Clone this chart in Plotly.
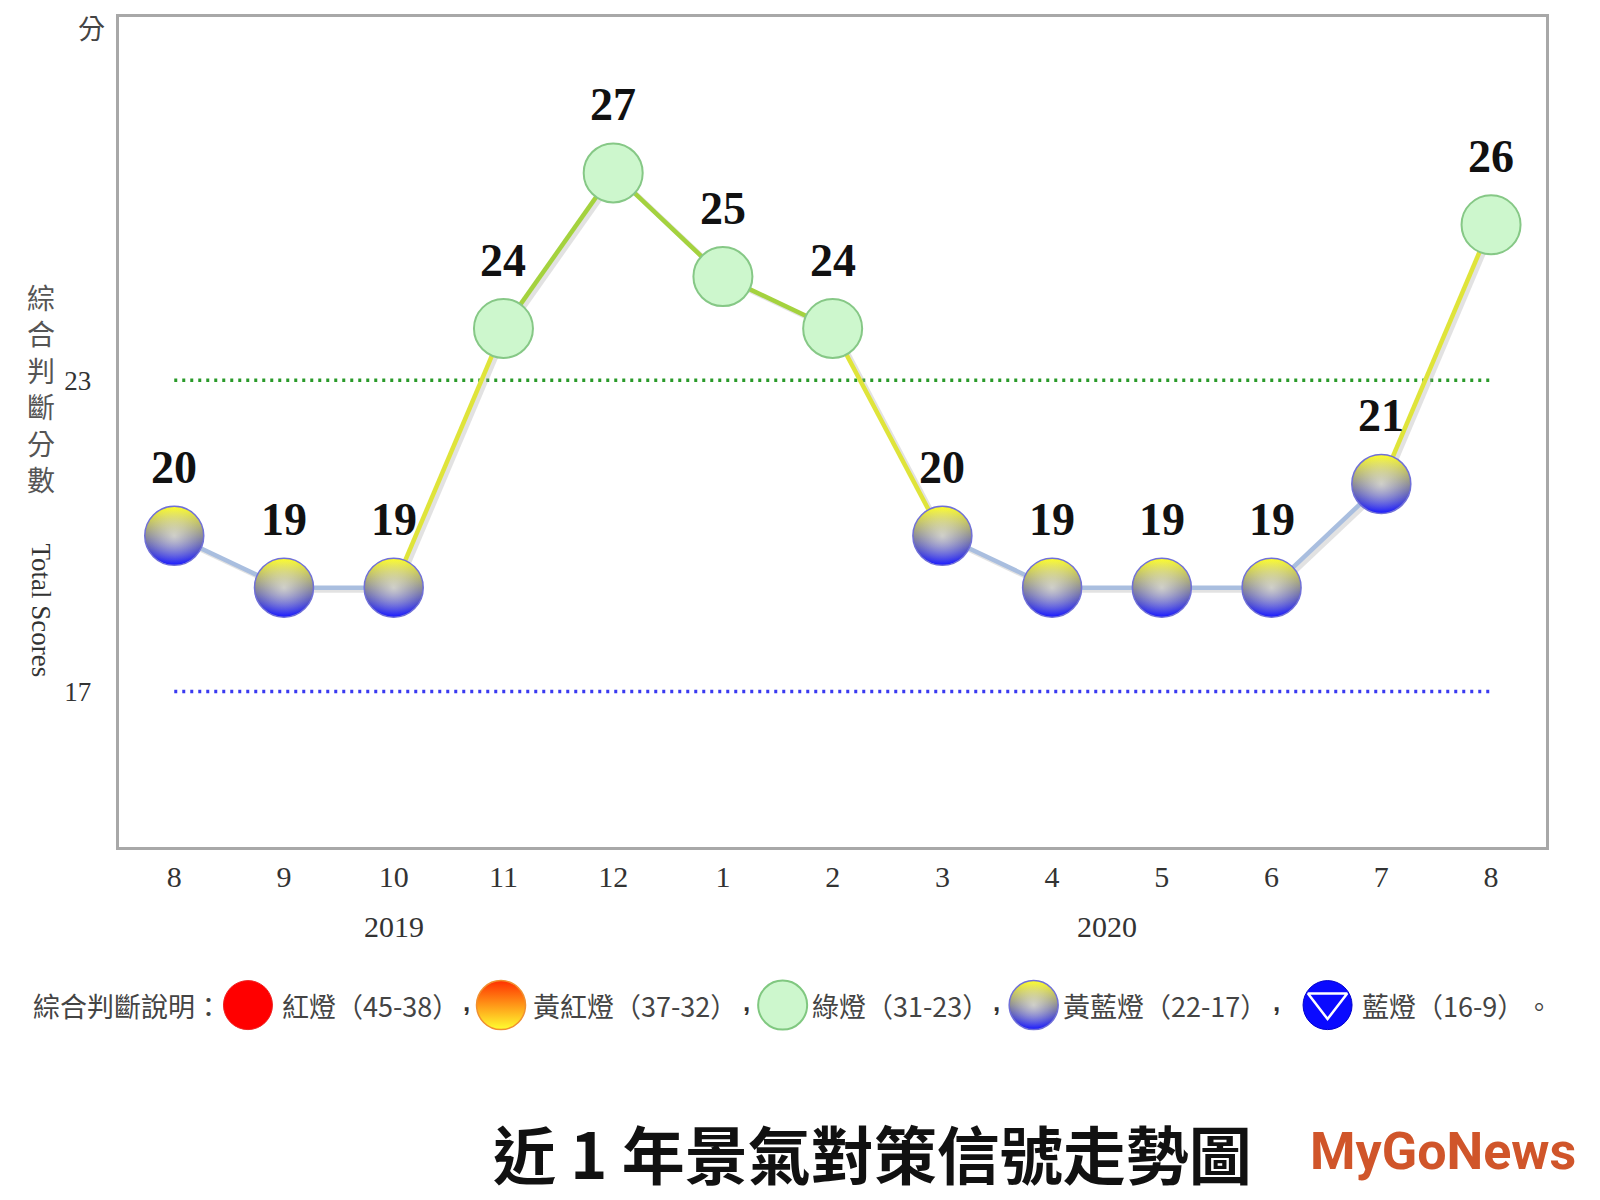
import plotly.graph_objects as go

# ---------------- data ----------------
months = ['8', '9', '10', '11', '12', '1', '2', '3', '4', '5', '6', '7', '8']
scores = [20, 19, 19, 24, 27, 25, 24, 20, 19, 19, 19, 21, 26]
year_labels = ['2019', '2020']
year_pos = [2, 8.5]
threshold_green = 23
threshold_blue = 17
y_ticks = [23, 17]
legend_labels = ['紅燈（45-38）', '黃紅燈（37-32）', '綠燈（31-23）', '黃藍燈（22-17）', '藍燈（16-9）']

W, H = 1600, 1200
S = 1600 / 1568.0   # reference-view scale
OFF = 8             # page body margin


def f(d):
    """reference-view pixel -> figure pixel"""
    return d * S - OFF


def px(d):
    return f(d) / W


def py(d):
    return 1 - f(d) / H


x_idx = list(range(len(months)))
SERIF = 'Liberation Serif, Times New Roman, serif'
CJK = 'Noto Sans CJK TC, Noto Sans, sans-serif'


def sig(v):
    return 'green' if v >= 23 else 'yb'


fig = go.Figure()

# threshold dotted lines
fig.add_trace(go.Scatter(x=[x_idx[0], x_idx[-1]], y=[threshold_green] * 2, mode='lines',
                         line=dict(color='#2a9a2a', width=3.5, dash='3px,5px'),
                         hoverinfo='skip', showlegend=False))
fig.add_trace(go.Scatter(x=[x_idx[0], x_idx[-1]], y=[threshold_blue] * 2, mode='lines',
                         line=dict(color='#3a3af0', width=3.5, dash='3px,5px'),
                         hoverinfo='skip', showlegend=False))

# connecting segments (with faint shadow)
for i in range(len(scores) - 1):
    a, b = sig(scores[i]), sig(scores[i + 1])
    if a == b == 'yb':
        col = '#a9bedf'
    elif a == b == 'green':
        col = '#a4d23e'
    else:
        col = '#dfe43a'
    fig.add_trace(go.Scatter(x=[x_idx[i] + 0.03, x_idx[i + 1] + 0.03], y=[scores[i] - 0.05, scores[i + 1] - 0.05],
                             mode='lines', line=dict(color='rgba(160,160,160,0.3)', width=5),
                             hoverinfo='skip', showlegend=False))
    fig.add_trace(go.Scatter(x=[x_idx[i], x_idx[i + 1]], y=[scores[i], scores[i + 1]],
                             mode='lines', line=dict(color=col, width=4.5),
                             hoverinfo='skip', showlegend=False))

# markers
gx = [x for x, v in zip(x_idx, scores) if sig(v) == 'green']
gy = [v for v in scores if sig(v) == 'green']
bx = [x for x, v in zip(x_idx, scores) if sig(v) == 'yb']
by = [v for v in scores if sig(v) == 'yb']

# soft halo behind lamps
fig.add_trace(go.Scatter(x=x_idx, y=scores, mode='markers',
                         marker=dict(size=66, color='rgba(255,255,255,0)',
                                     gradient=dict(type='radial', color='rgba(120,120,160,0.25)'),
                                     line=dict(width=0)),
                         hoverinfo='skip', showlegend=False))
fig.add_trace(go.Scatter(x=gx, y=gy, mode='markers',
                         marker=dict(size=59, color='#cdf7cd', line=dict(color='#86c886', width=2)),
                         hoverinfo='skip', showlegend=False))
fig.add_trace(go.Scatter(x=bx, y=by, mode='markers',
                         marker=dict(size=59, color='#ffff20', gradient=dict(type='vertical', color='#1010ff'),
                                     line=dict(color='#7070d8', width=1.5)),
                         hoverinfo='skip', showlegend=False))
# soft light band through the middle of the yellow/blue lamps
fig.add_trace(go.Scatter(x=bx, y=by, mode='markers',
                         marker=dict(size=57, color='rgba(255,255,255,0.05)',
                                     gradient=dict(type='radial', color='rgba(255,255,240,0.6)'),
                                     line=dict(width=0)),
                         hoverinfo='skip', showlegend=False))

annotations = []
# data labels
for x, v in zip(x_idx, scores):
    annotations.append(dict(x=x, y=v, xref='x', yref='y', text=f'<b>{v}</b>', showarrow=False,
                            xanchor='center', yanchor='middle', yshift=68,
                            font=dict(family=SERIF, size=46, color='#111111')))

# year labels
for yl, yp in zip(year_labels, year_pos):
    annotations.append(dict(x=yp, y=py(908), xref='x', yref='paper', text=yl, showarrow=False,
                            xanchor='center', yanchor='middle',
                            font=dict(family=SERIF, size=30, color='#333333')))

# y unit + axis titles
annotations.append(dict(x=px(90), y=py(27), xref='paper', yref='paper', text='分', showarrow=False,
                        xanchor='center', yanchor='middle',
                        font=dict(family=CJK, size=27, color='#444444')))
annotations.append(dict(x=px(40), y=py(380), xref='paper', yref='paper',
                        text='<br>'.join(list('綜合判斷分數')), showarrow=False,
                        xanchor='center', yanchor='middle',
                        font=dict(family=CJK, size=28, color='#555555')))
annotations.append(dict(x=px(40), y=py(598), xref='paper', yref='paper', text='Total Scores',
                        textangle=90, showarrow=False, xanchor='center', yanchor='middle',
                        font=dict(family=SERIF, size=27, color='#333333')))

# legend row texts
LY = py(985)
annotations.append(dict(x=px(30), y=LY, xref='paper', yref='paper', text='綜合判斷說明：',
                        xanchor='left', yanchor='middle',
                        showarrow=False, font=dict(family=CJK, size=27, color='#444444')))
leg_text_x = [274, 520, 794, 1040, 1333]
for t, lx in zip(legend_labels, leg_text_x):
    annotations.append(dict(x=px(lx), y=LY, xref='paper', yref='paper', text=t,
                            xanchor='left', yanchor='middle',
                            showarrow=False, font=dict(family=CJK, size=27, color='#444444')))
for cx in [457, 732, 977, 1251]:
    annotations.append(dict(x=px(cx), y=py(982), xref='paper', yref='paper', text='<b>,</b>',
                            xanchor='center', yanchor='middle',
                            showarrow=False, font=dict(family='Liberation Sans, sans-serif', size=26, color='#333333')))
annotations.append(dict(x=px(1494), y=LY, xref='paper', yref='paper', text='。',
                        xanchor='left', yanchor='middle',
                        showarrow=False, font=dict(family=CJK, size=26, color='#444444')))

# bottom title
annotations.append(dict(x=px(855), y=py(1128), xref='paper', yref='paper',
                        text='<b>近 1 年景氣對策信號走勢圖</b>', showarrow=False,
                        xanchor='center', yanchor='middle',
                        font=dict(family=CJK, size=63, color='#111111')))
annotations.append(dict(x=px(1414), y=py(1128), xref='paper', yref='paper',
                        text='<b>MyGoNews</b>', showarrow=False,
                        xanchor='center', yanchor='middle',
                        font=dict(family='Roboto, Liberation Sans, sans-serif', size=52, color='#d0552a')))

# legend icons on a full-page overlay axis expressed in reference-view pixels
LYP = 985
fig.add_trace(go.Scatter(x=[243], y=[LYP], xaxis='x2', yaxis='y2', mode='markers',
                         marker=dict(size=49, color='#ff0000', line=dict(color='#ee2222', width=1)),
                         showlegend=False, hoverinfo='skip'))
fig.add_trace(go.Scatter(x=[491], y=[LYP], xaxis='x2', yaxis='y2', mode='markers',
                         marker=dict(size=49, color='#ff3000', gradient=dict(type='vertical', color='#ffff30'),
                                     line=dict(color='#f09030', width=1.5)),
                         showlegend=False, hoverinfo='skip'))
fig.add_trace(go.Scatter(x=[767], y=[LYP], xaxis='x2', yaxis='y2', mode='markers',
                         marker=dict(size=49, color='#cdf7cd', line=dict(color='#80c880', width=2)),
                         showlegend=False, hoverinfo='skip'))
fig.add_trace(go.Scatter(x=[1013], y=[LYP], xaxis='x2', yaxis='y2', mode='markers',
                         marker=dict(size=49, color='#ffff20', gradient=dict(type='vertical', color='#1010ff'),
                                     line=dict(color='#7070d8', width=1.5)),
                         showlegend=False, hoverinfo='skip'))
fig.add_trace(go.Scatter(x=[1013], y=[LYP], xaxis='x2', yaxis='y2', mode='markers',
                         marker=dict(size=47, color='rgba(255,255,255,0.05)',
                                     gradient=dict(type='radial', color='rgba(255,255,240,0.6)'),
                                     line=dict(width=0)),
                         showlegend=False, hoverinfo='skip'))
fig.add_trace(go.Scatter(x=[1301], y=[LYP], xaxis='x2', yaxis='y2', mode='markers',
                         marker=dict(size=49, color='#0a0aff', line=dict(color='#0000cc', width=1)),
                         showlegend=False, hoverinfo='skip'))
fig.add_trace(go.Scatter(x=[1301], y=[LYP - 3], xaxis='x2', yaxis='y2', mode='markers',
                         marker=dict(size=34, symbol='triangle-down-open', color='white', line=dict(width=2.5)),
                         showlegend=False, hoverinfo='skip'))

fig.update_layout(
    width=W, height=H,
    margin=dict(l=0, r=0, t=0, b=0, autoexpand=False),
    paper_bgcolor='white', plot_bgcolor='rgba(0,0,0,0)',
    showlegend=False,
    annotations=annotations,
    xaxis=dict(domain=[px(117), px(1515)], range=[-0.5, len(months) - 0.5],
               tickmode='array', tickvals=x_idx, ticktext=months,
               showgrid=False, zeroline=False, showline=True, mirror=True,
               linecolor='#a8a8a8', linewidth=2.5,
               ticks='outside', ticklen=1, tickcolor='rgba(0,0,0,0)',
               tickfont=dict(family=SERIF, size=30, color='#333333')),
    yaxis=dict(domain=[py(830), py(17)], range=[14, 30],
               tickmode='array', tickvals=y_ticks, ticktext=[str(t) for t in y_ticks],
               showgrid=False, zeroline=False, showline=True, mirror=True,
               linecolor='#a8a8a8', linewidth=2.5,
               ticks='outside', ticklen=20, tickcolor='rgba(0,0,0,0)',
               tickfont=dict(family=SERIF, size=27, color='#333333')),
    xaxis2=dict(domain=[0, 1], range=[OFF / S, (W + OFF) / S], anchor='y2', visible=False, fixedrange=True),
    yaxis2=dict(domain=[0, 1], range=[(H + OFF) / S, OFF / S], anchor='x2', visible=False, fixedrange=True),
)

fig.write_html('out.html')
